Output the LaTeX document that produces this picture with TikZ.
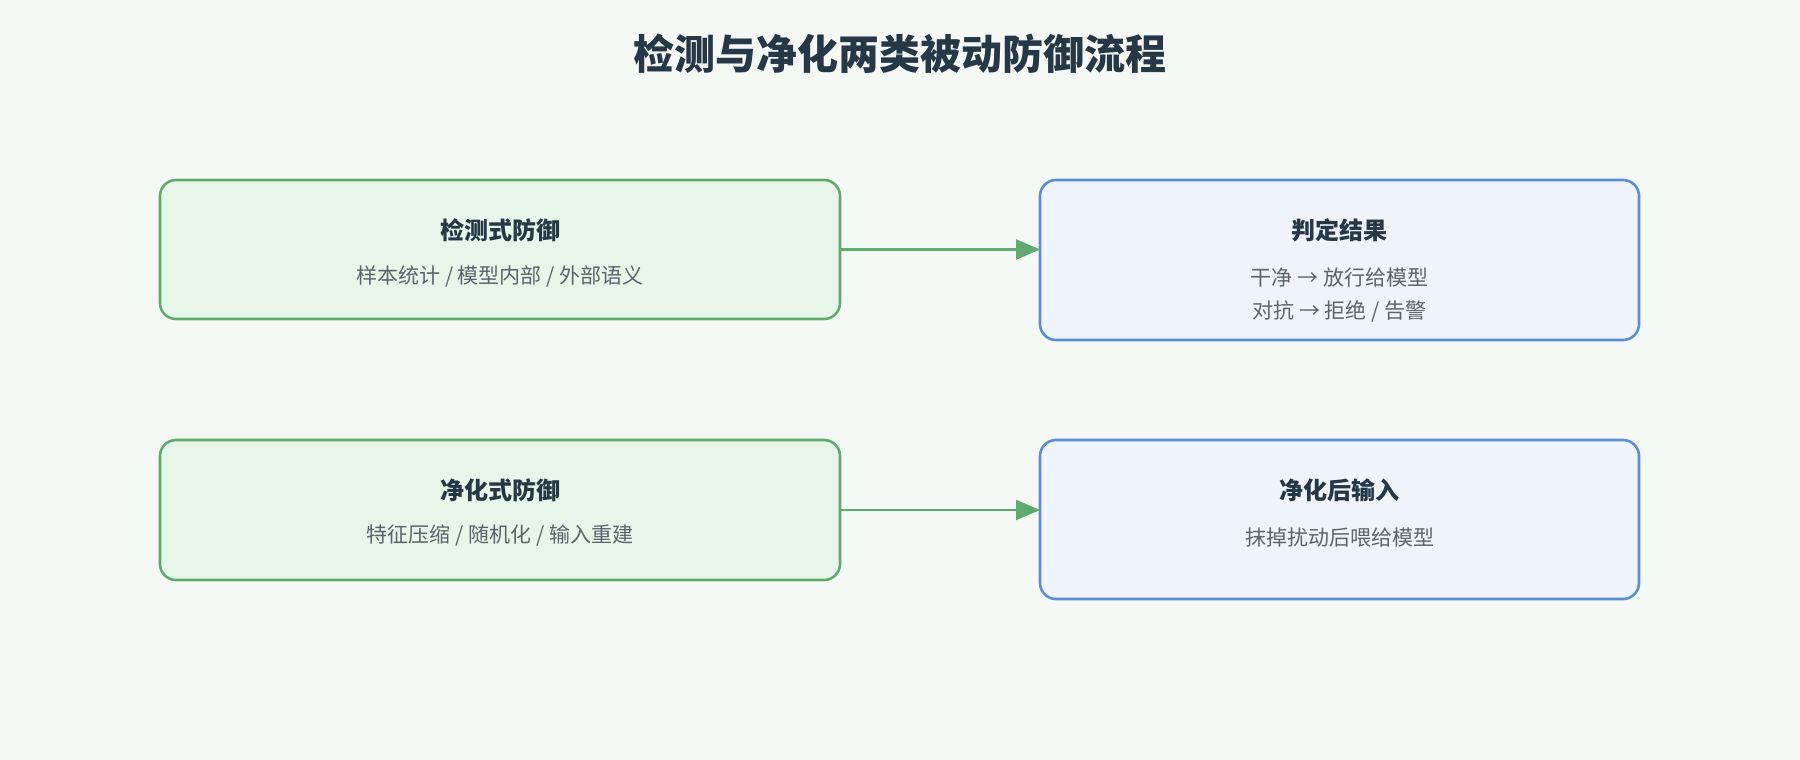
\documentclass[tikz,border=0pt]{standalone}
\usepackage{fontspec}
\setmainfont{Noto Sans CJK SC}
\usetikzlibrary{arrows.meta}
\definecolor{bg}{HTML}{F5F9F6}
\definecolor{gb}{HTML}{5FAA6E}
\definecolor{gf}{HTML}{E8F5E9}
\definecolor{bb}{HTML}{5B8DD9}
\definecolor{bf}{HTML}{EEF3FC}
\definecolor{tt}{HTML}{263746}
\definecolor{st}{HTML}{5A646C}
\begin{document}
\begin{tikzpicture}[x=1pt,y=-1pt,
 box/.style={draw,line width=2.6pt,rounded corners=16pt},
 gbox/.style={box,draw=gb,fill=gf},
 bbox/.style={box,draw=bb,fill=bf},
 hd/.style={font=\fontsize{24}{28}\selectfont\bfseries,text=tt},
 bd/.style={font=\fontsize{21}{33}\selectfont,text=st,align=center},
 arr/.style={draw=gb,line width=2.4pt,-{Triangle[length=24pt,width=20pt]}}]
\fill[bg] (0,0) rectangle (1800,760);
\useasboundingbox (0,0) rectangle (1800,760);
\node[font=\fontsize{41}{48}\selectfont\bfseries,text=tt] (t) at (900,54) {检测与净化两类被动防御流程};
\draw[gbox] (160,180) rectangle (840,319);
\coordinate (a1) at (840,249.5);
\node[hd] (h1) at (500,230) {检测式防御};
\node[bd] (s1) at (500,277) {样本统计 / 模型内部 / 外部语义};
\draw[bbox] (1040,180) rectangle (1639,340);
\coordinate (b1) at (1040,249.5);
\node[hd] (h2) at (1339.5,230) {判定结果};
\node[bd] (s2) at (1339.5,295) {干净 → 放行给模型\\对抗 → 拒绝 / 告警};
\draw[gbox] (160,440) rectangle (840,580);
\coordinate (a2) at (840,510);
\node[hd] (h3) at (500,490) {净化式防御};
\node[bd] (s3) at (500,536) {特征压缩 / 随机化 / 输入重建};
\draw[bbox] (1040,440) rectangle (1639,599);
\coordinate (b2) at (1040,510);
\node[hd] (h4) at (1339.5,490) {净化后输入};
\node[bd] (s4) at (1339.5,538) {抹掉扰动后喂给模型};
\draw[arr] (a1) -- (b1);
\draw[arr] (a2) -- (b2);
\end{tikzpicture}
\end{document}
